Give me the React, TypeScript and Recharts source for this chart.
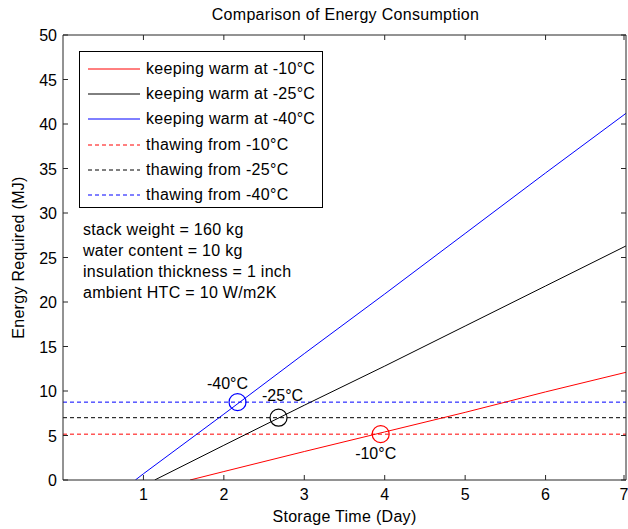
import { ComposedChart, Line, Scatter, XAxis, YAxis } from "recharts"

// storage time (day) and energy (MJ)
const dayTicks = [1, 2, 3, 4, 5, 6, 7]
const energyTicks = [0, 5, 10, 15, 20, 25, 30, 35, 40, 45, 50]

const daysWarm10 = [1.58, 2, 3, 4, 5, 6, 7]
const warm10 = [0, 0.95, 3.2, 5.4, 7.6, 9.9, 12.1]
const daysWarm25 = [1.14, 2, 3, 4, 5, 6, 7]
const warm25 = [0, 3.9, 8.4, 12.8, 17.3, 21.8, 26.3]
const daysWarm40 = [0.9, 1, 2, 3, 4, 5, 6, 7]
const warm40 = [0, 0.7, 7.4, 14.2, 20.9, 27.7, 34.5, 41.2]

const thawDays = [0, 7]
const thaw10 = 5.15
const thaw25 = 7.0
const thaw40 = 8.75

const crossLabels = ["-10°C", "-25°C", "-40°C"]
const crossDays = [3.95, 2.68, 2.17]
const crossEnergy = [5.15, 7.0, 8.75]

const legendNames = [
  "keeping warm at -10°C",
  "keeping warm at -25°C",
  "keeping warm at -40°C",
  "thawing from -10°C",
  "thawing from -25°C",
  "thawing from -40°C",
]

const notes = [
  "stack weight = 160 kg",
  "water content = 10 kg",
  "insulation thickness = 1 inch",
  "ambient HTC = 10 W/m2K",
]

const RED = "#ff0000"
const BLACK = "#000000"
const BLUE = "#0000ff"
const AXIS = "#262626"
const FONT = "'Liberation Sans', Arial, sans-serif"
const FS = 16
const LS = "0.3px"

const toPoints = (xs: number[], ys: number[]) => xs.map((x, i) => ({ x, y: ys[i] }))
const flat = (v: number) => thawDays.map((x) => ({ x, y: v }))

const legendStyles = [
  { color: RED, dash: undefined },
  { color: BLACK, dash: undefined },
  { color: BLUE, dash: undefined },
  { color: RED, dash: "4 3" },
  { color: BLACK, dash: "4 3" },
  { color: BLUE, dash: "4 3" },
]

// label offsets for the circled crossing points (-10, -25, -40)
const crossStyle = [
  { color: RED, dx: -5, dy: 25 },
  { color: BLACK, dx: 4, dy: -17 },
  { color: BLUE, dx: -10, dy: -13 },
]

const BottomTick = (p: any) => (
  <g>
    <line x1={p.x} x2={p.x} y1={p.y} y2={p.y - 5} stroke={AXIS} />
    <text x={p.x} y={p.y + 20} textAnchor="middle" fontSize={FS} fontFamily={FONT} fill={BLACK}>
      {p.payload.value}
    </text>
  </g>
)
const TopTick = (p: any) => <line x1={p.x} x2={p.x} y1={p.y} y2={p.y + 5} stroke={AXIS} />
const LeftTick = (p: any) => (
  <g>
    <line x1={p.x} x2={p.x + 5} y1={p.y} y2={p.y} stroke={AXIS} />
    <text x={p.x - 6} y={p.y + 6} textAnchor="end" fontSize={FS} fontFamily={FONT} fill={BLACK}>
      {p.payload.value}
    </text>
  </g>
)
const RightTick = (p: any) => <line x1={p.x} x2={p.x - 5} y1={p.y} y2={p.y} stroke={AXIS} />

const crossData = crossDays.map((x, i) => ({ x, y: crossEnergy[i], label: crossLabels[i], idx: i }))

const CrossShape = (p: any) => {
  const s = crossStyle[p.payload.idx]
  return (
    <g>
      <circle cx={p.cx} cy={p.cy} r={8.5} fill="none" stroke={s.color} strokeWidth={1.2} />
      <text
        x={p.cx + s.dx}
        y={p.cy + s.dy}
        textAnchor="middle"
        fontSize={FS}
        fontFamily={FONT}
        fill={BLACK}
      >
        {p.payload.label}
      </text>
    </g>
  )
}

export default function App() {
  return (
    <div style={{ position: "absolute", left: 0, top: 0, width: 628, height: 529, background: "#fff", fontFamily: FONT }}>
      <ComposedChart width={628} height={529} margin={{ top: 34, right: 0, bottom: 0, left: 0 }}>
        <XAxis
          xAxisId="b"
          type="number"
          dataKey="x"
          domain={[0, 7]}
          ticks={dayTicks}
          allowDataOverflow
          tickSize={0}
          tickMargin={0}
          tickLine={false}
          axisLine={{ stroke: AXIS }}
          tick={<BottomTick />}
          height={49}
          label={{ value: "Storage Time (Day)", position: "insideBottom", offset: 7, fontSize: FS, fontFamily: FONT, fill: BLACK, letterSpacing: LS }}
        />
        <XAxis
          xAxisId="t"
          orientation="top"
          type="number"
          dataKey="x"
          domain={[0, 7]}
          ticks={dayTicks}
          allowDataOverflow
          tickSize={0}
          tickMargin={0}
          tickLine={false}
          axisLine={{ stroke: AXIS }}
          tick={<TopTick />}
          height={1}
        />
        <YAxis
          yAxisId="l"
          type="number"
          dataKey="y"
          domain={[0, 50]}
          ticks={energyTicks}
          allowDataOverflow
          tickSize={0}
          tickMargin={0}
          tickLine={false}
          axisLine={{ stroke: AXIS }}
          tick={<LeftTick />}
          width={63}
          label={{
            value: "Energy Required (MJ)",
            angle: -90,
            position: "insideLeft",
            offset: 18,
            fontSize: FS,
            fontFamily: FONT,
            fill: BLACK,
            letterSpacing: LS,
            style: { textAnchor: "middle" },
          }}
        />
        <YAxis
          yAxisId="r"
          orientation="right"
          type="number"
          dataKey="y"
          domain={[0, 50]}
          ticks={energyTicks}
          allowDataOverflow
          tickSize={0}
          tickMargin={0}
          tickLine={false}
          axisLine={{ stroke: AXIS }}
          tick={<RightTick />}
          width={2}
        />

        <Line xAxisId="b" yAxisId="l" data={flat(thaw10)} dataKey="y" stroke={RED} strokeDasharray="4 3" dot={false} isAnimationActive={false} />
        <Line xAxisId="b" yAxisId="l" data={flat(thaw25)} dataKey="y" stroke={BLACK} strokeDasharray="4 3" dot={false} isAnimationActive={false} />
        <Line xAxisId="b" yAxisId="l" data={flat(thaw40)} dataKey="y" stroke={BLUE} strokeDasharray="4 3" dot={false} isAnimationActive={false} />
        <Line xAxisId="b" yAxisId="l" data={toPoints(daysWarm10, warm10)} dataKey="y" stroke={RED} dot={false} isAnimationActive={false} />
        <Line xAxisId="b" yAxisId="l" data={toPoints(daysWarm25, warm25)} dataKey="y" stroke={BLACK} dot={false} isAnimationActive={false} />
        <Line xAxisId="b" yAxisId="l" data={toPoints(daysWarm40, warm40)} dataKey="y" stroke={BLUE} dot={false} isAnimationActive={false} />
        <Scatter xAxisId="b" yAxisId="l" data={crossData} dataKey="y" shape={<CrossShape />} isAnimationActive={false} />
      </ComposedChart>

      <div style={{ position: "absolute", left: 0, width: 628, paddingLeft: 63, boxSizing: "border-box", top: 6, textAlign: "center", fontSize: FS, letterSpacing: LS, color: BLACK }}>
        Comparison of Energy Consumption
      </div>

      <div
        style={{
          position: "absolute",
          left: 79,
          top: 51,
          width: 244,
          height: 157,
          border: "1px solid #000",
          background: "#fff",
          boxSizing: "border-box",
          padding: "4px 0 0 8px",
        }}
      >
        {legendNames.map((name, i) => (
          <div key={name} style={{ display: "flex", alignItems: "center", height: 25.3, fontSize: FS, letterSpacing: LS }}>
            <svg width={52} height={4} style={{ marginRight: 6 }}>
              <line x1={0} x2={52} y1={2} y2={2} stroke={legendStyles[i].color} strokeDasharray={legendStyles[i].dash} />
            </svg>
            <span>{name}</span>
          </div>
        ))}
      </div>

      <div style={{ position: "absolute", left: 83, top: 219, fontSize: FS, letterSpacing: LS, lineHeight: "21px" }}>
        {notes.map((n) => (
          <div key={n}>{n}</div>
        ))}
      </div>
    </div>
  )
}
